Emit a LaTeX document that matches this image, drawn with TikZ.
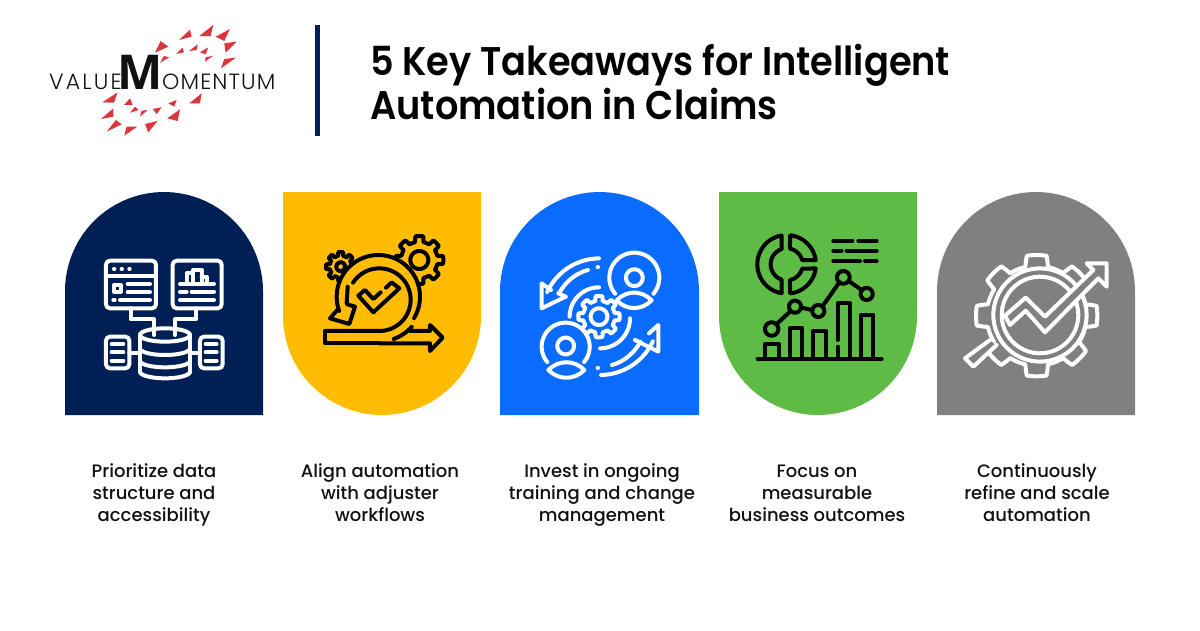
\documentclass[tikz,border=0pt]{standalone}
\usepackage{fontspec}
\setmainfont{Poppins}
\newfontfamily\titlef[UprightFont=* SemiBold,FakeStretch=0.918]{Poppins}
\newfontfamily\bodyf[UprightFont=* Medium]{Poppins}
\newfontfamily\logof[UprightFont=* Light]{Poppins}
\newfontfamily\logoM[UprightFont=* Bold]{Open Sans}
\definecolor{navy}{HTML}{001F54}
\definecolor{amber}{HTML}{FFBC00}
\definecolor{azure}{HTML}{0A6CFF}
\definecolor{leaf}{HTML}{5DBB46}
\definecolor{midgray}{HTML}{808080}
\definecolor{ink}{HTML}{111111}
\definecolor{logored}{HTML}{D9363E}
\newcommand{\arcp}[6]{plot[domain=#5:#6,samples=48,variable=\t]({#1+#3*cos(\t)},{#2+#4*sin(\t)})}
\newcommand{\arcl}[6]{-- plot[domain=#5:#6,samples=48,variable=\t]({#1+#3*cos(\t)},{#2+#4*sin(\t)})}
\newcommand{\cogp}[6]{plot[domain=#6:360+#6,samples=193,variable=\t]({#1+(#4+(#3-#4)*max(0,min(1,0.5+2.2*cos(#5*(\t-#6)))))*cos(\t)},{#2+(#4+(#3-#4)*max(0,min(1,0.5+2.2*cos(#5*(\t-#6)))))*sin(\t)})}
\tikzset{
  takeaway/.style={font=\bodyf\fontsize{18}{22}\selectfont,text=ink,align=center,anchor=north,inner sep=0pt},
  icon/.style={line width=4pt,line cap=round,line join=round},
  tri/.style={fill=logored,draw=none},
  zoomed/.style={x=0.3333pt,y=-0.3333pt}
}
\begin{document}
\begin{tikzpicture}[x=1pt,y=-1pt]
\useasboundingbox (0,0) rectangle (1200,630);
\fill[white] (0,0) rectangle (1200,630);
% Logo triangles
\begin{scope}[shift={(40,15)},zoomed]
\foreach \p in {
 {(417,75)--(450,44)--(455,65)},{(478,63)--(520,30)--(512,63)},{(527,65)--(570,42)--(553,78)},
 {(553,85)--(590,80)--(557,113)},{(543,160)--(588,128)--(553,132)},{(345,113)--(362,78)--(385,95)},
 {(408,117)--(428,98)--(432,112)},{(447,108)--(473,88)--(470,105)},{(480,112)--(505,97)--(497,118)},
 {(495,140)--(520,122)--(497,127)},{(360,143)--(372,123)--(388,127)},
 {(187,262)--(233,232)--(222,263)},{(252,270)--(270,250)--(278,270)},{(270,293)--(285,275)--(296,285)},
 {(300,305)--(305,287)--(323,285)},{(338,282)--(365,277)--(350,297)},{(385,265)--(410,255)--(403,275)},
 {(448,265)--(485,235)--(480,265)},{(382,310)--(420,283)--(413,318)},{(183,312)--(220,280)--(220,305)},
 {(200,350)--(228,315)--(245,328)},{(253,362)--(260,335)--(292,335)},{(315,327)--(353,318)--(325,352)}}{
  \fill[tri] \p--cycle;
}
\end{scope}
\node[anchor=base west,inner sep=0pt,text=ink] (logoa) at (49,89) {\logof\addfontfeature{LetterSpace=10}\fontsize{22}{22}\selectfont VALUE};
\node[anchor=base west,inner sep=0pt,text=ink] (logob) at (117.5,89) {\logoM\fontsize{48}{48}\selectfont M};
\node[anchor=base west,inner sep=0pt,text=ink] (logoc) at (162,89) {\logof\addfontfeature{LetterSpace=5}\fontsize{22}{22}\selectfont OMENTUM};
% divider and title
\fill[navy] (315,25) rectangle (320,136);
\node[anchor=base west,inner sep=0pt,text=black] (title1) at (370,75) {\titlef\fontsize{40}{44}\selectfont 5 Key Takeaways for Intelligent};
\node[anchor=base west,inner sep=0pt,text=black] (title2) at (370,119) {\titlef\fontsize{40}{44}\selectfont Automation in Claims};
% cards
\fill[navy] \arcp{164}{291}{99}{99}{180}{360}--(263,415)--(65,415)--cycle;
\fill[amber] (283,192)--(481,192)--(481,316)\arcl{382}{316}{99}{99}{0}{180}--cycle;
\fill[azure] \arcp{599.5}{291}{99.5}{99}{180}{360}--(699,415)--(500,415)--cycle;
\fill[leaf] (719,192)--(917,192)--(917,316)\arcl{818}{316}{99}{99}{0}{180}--cycle;
\fill[midgray] \arcp{1036}{291}{99}{99}{180}{360}--(1135,415)--(937,415)--cycle;
% labels
\node[takeaway] (t1) at (154,462) {\strut Prioritize data\\structure and\\accessibility};
\node[takeaway] (t2) at (380,462) {\strut Align automation\\with adjuster\\workflows};
\node[takeaway] (t3) at (602,462) {\strut Invest in ongoing\\training and change\\management};
\node[takeaway] (t4) at (817,462) {\strut Focus on\\measurable\\business outcomes};
\node[takeaway] (t5) at (1037,462) {\strut Continuously\\refine and scale\\automation};
% icon 1
\begin{scope}[shift={(90,240)},zoomed,icon,draw=white]
\draw[rounded corners=4pt] (48,62) rectangle (198,205);
\draw (48,108)--(198,108);
\foreach \x in {72,95,118}{\draw (\x,87)--(\x+1,87);}
\draw (72,135) rectangle (92,155);
\draw (113,132)--(180,132) (113,157)--(180,157) (70,180)--(74,180) (90,180)--(180,180);
\draw[rounded corners=4pt] (248,62) rectangle (395,205);
\draw (270,132)--(372,132);
\draw (290,130)--(290,100)--(310,100)--(310,130) (310,100)--(310,90)--(335,90)--(335,130) (335,110)--(350,110)--(350,130);
\draw (270,155)--(290,155) (305,155)--(372,155) (270,180)--(372,180);
\draw (122,205)--(122,238)--(192,238)--(192,285);
\draw (318,205)--(318,238)--(255,238)--(255,285);
\draw \arcp{225}{285}{75}{20}{0}{360};
\draw (150,285)--(150,395) (300,285)--(300,395);
\draw \arcp{225}{395}{75}{20}{0}{180};
\draw \arcp{225}{325}{75}{20}{0}{180};
\draw \arcp{225}{362}{75}{20}{0}{180};
\draw[rounded corners=4pt] (48,290) rectangle (118,385);
\draw[rounded corners=4pt] (330,290) rectangle (398,385);
\foreach \y in {312,337,362}{\draw (65,\y)--(100,\y) (347,\y)--(380,\y);}
\draw (118,338)--(150,338) (300,338)--(330,338);
\end{scope}
% icon 2
\begin{scope}[shift={(310,225)},zoomed,icon,draw=black]
\draw \cogp{92}{125}{44}{33}{8}{0};
\draw \cogp{328}{105}{72}{55}{8}{0};
\draw \arcp{92}{125}{13}{13}{0}{360};
\draw \arcp{328}{105}{27}{27}{0}{360};
\fill[amber] \arcp{205}{215}{125}{125}{0}{360};
\draw \arcp{205}{215}{125}{125}{31}{-200};
\draw \arcp{205}{215}{135}{135}{70}{42};
\draw (45,318)--(208,318) \arcl{208}{224}{94}{94}{90}{-147};
\draw (113,185)--(110,235);
\draw (82,255)--(60,280)--(118,297)--(135,245)--(112,238);
\draw (208,355)--(45,355)--(45,318);
\draw (208,355)--(360,355)--(360,378)--(398,338)--(360,300)--(360,318)--(300,318);
\draw (145,212)--(165,195)--(190,222)--(212,202) (228,188)--(245,172)--(268,190)--(190,262)--(145,212);
\end{scope}
% icon 3
\begin{scope}[shift={(525,245)},zoomed,icon,draw=white]
\draw \arcp{225}{215}{175}{175}{-91}{-155};
\draw \arcp{225}{215}{140}{145}{-105}{-150};
\draw (218,67)--(219,67);
\draw (122,155)--(50,190)--(50,115)--(78,135);
\draw (100,145)--(122,155);
\draw \arcp{328}{98}{75}{75}{140}{400};
\draw \arcp{328}{98}{25}{25}{0}{360};
\draw (275,166) .. controls (305,135) and (350,135) .. (380,166) .. controls (350,197) and (305,197) .. (275,166);
\draw \arcp{122}{305}{72}{72}{40}{-220};
\draw \arcp{122}{303}{25}{25}{0}{360};
\draw (70,375) .. controls (100,344) and (148,344) .. (178,375) .. controls (148,406) and (100,406) .. (70,375);
\draw \cogp{222}{215}{62}{48}{8}{0};
\draw \arcp{222}{215}{25}{25}{0}{360};
\draw \arcp{222}{215}{88}{88}{-90}{-180};
\draw \arcp{225}{220}{90}{90}{0}{90};
\draw \arcp{225}{215}{175}{175}{89}{25};
\draw \arcp{225}{215}{140}{150}{75}{30};
\draw (218,368)--(219,368);
\draw (330,285)--(400,320)--(400,240)--(372,265);
\draw (330,285)--(345,292);
\end{scope}
% icon 4
\begin{scope}[shift={(745,225)},zoomed,icon,draw=black]
\draw (110,33) \arcl{125}{118}{88}{88}{-100}{-260}--(110,165)\arcl{125}{118}{48}{48}{108}{252}--cycle;
\draw (135,35)\arcl{125}{118}{88}{88}{-83}{-8}--(172,105)\arcl{125}{118}{48}{48}{-16}{-78}--cycle;
\draw (135,201)\arcl{125}{118}{88}{88}{83}{8}--(172,131)\arcl{125}{118}{48}{48}{16}{78}--cycle;
\draw (265,47)--(322,47) (340,47)--(395,47) (265,77)--(290,77) (305,77)--(395,77) (265,108)--(345,108) (360,108)--(395,108);
\draw (94,298)--(137,258) (168,248)--(202,255) (233,243)--(283,172) (311,168)--(350,195);
\draw \arcp{80}{312}{20}{20}{0}{360};
\draw \arcp{150}{245}{18}{18}{0}{360};
\draw \arcp{220}{258}{18}{18}{0}{360};
\draw \arcp{295}{157}{19}{19}{0}{360};
\draw \arcp{365}{207}{18}{18}{0}{360};
\draw (38,402)--(410,402);
\draw (60,402)--(60,357)--(102,357)--(102,402);
\draw (135,402)--(135,310)--(172,310)--(172,402);
\draw (205,402)--(205,318)--(243,318)--(243,402);
\draw (278,402)--(278,365) (278,345)--(278,235)--(315,235)--(315,402);
\draw (348,402)--(348,270)--(385,270)--(385,402);
\end{scope}
% icon 5
\begin{scope}[shift={(955,245)},zoomed,icon,draw=white]
\draw \cogp{245}{212}{182}{150}{8}{0};
\draw \arcp{255}{210}{140}{140}{0}{360};
\draw \arcp{255}{210}{115}{115}{0}{360};
\fill[midgray] (95,280)--(30,340)--(55,365)--(130,305)--cycle;
\draw (105,285)--(30,340)--(55,365)--(125,300);
\fill[midgray] (395,55)--(455,55)--(455,125)--(430,100)--(270,262)--(212,197)--(165,240)--(150,212)--(212,158)--(270,215)--(415,75)--cycle;
\draw (395,55)--(455,55)--(455,125)--(430,100)--(270,262)--(212,197)--(165,240)--(150,212)--(212,158)--(270,215)--(415,75)--cycle;
\end{scope}
\end{tikzpicture}
\end{document}
